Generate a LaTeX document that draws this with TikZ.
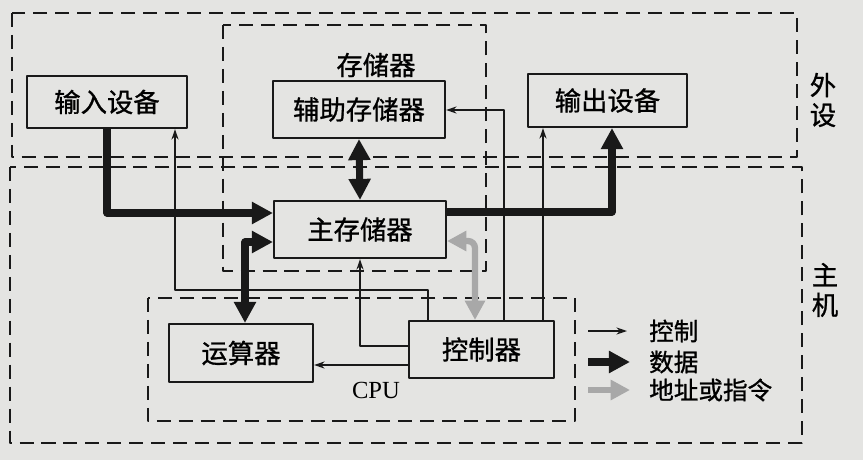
\documentclass[tikz,border=0pt]{standalone}
\usepackage{fontspec}
\setmainfont{Liberation Serif}
\newfontfamily\cjk[FakeBold=1]{Noto Sans CJK SC}
\usetikzlibrary{arrows.meta}
\definecolor{paper}{RGB}{228,228,226}
\definecolor{ink}{RGB}{25,25,25}
\definecolor{addrgray}{RGB}{168,168,168}

\begin{document}
\begin{tikzpicture}[x=0.02cm,y=-0.02cm,line join=round,font=\cjk\fontsize{15}{17}\selectfont,
		box/.style={draw=ink,line width=1.2pt,inner sep=0pt},
		frame/.style={draw=ink,line width=1.1pt,dash pattern=on 8pt off 4.5pt},
		ctrl/.style={draw=ink,line width=0.8pt,-{Stealth[length=6pt,width=4pt]}},
		data/.style={draw=ink,line width=4pt,-{Triangle[length=12pt,width=12pt]}},
		dbl/.style={draw=ink,line width=4pt,{Triangle[length=12pt,width=12pt]}-{Triangle[length=12pt,width=12pt]}},
		addr/.style={draw=addrgray,line width=3.6pt,{Triangle[length=11pt,width=11pt]}-{Triangle[length=11pt,width=11pt]}}]
			\fill[paper] (0,0) rectangle (863,460);
			\draw[frame] (12,13) rectangle (797,157);
			\draw[frame] (10,167) rectangle (802,443);
			\draw[frame] (223,25) rectangle (486,271);
			\draw[frame] (148,298) rectangle (575,421);
			\node[box,minimum width=3.2cm,minimum height=1.04cm] (in) at (107,102) {输入设备};
			\node[box,minimum width=3.44cm,minimum height=1.14cm] (aux) at (359,109.5) {辅助存储器};
			\node[box,minimum width=3.18cm,minimum height=1.06cm] (out) at (607.5,100.5) {输出设备};
			\node[box,minimum width=3.44cm,minimum height=1.14cm] (mem) at (360,229.5) {主存储器};
			\node[box,minimum width=2.88cm,minimum height=1.16cm] (alu) at (241,353) {运算器};
			\node[box,minimum width=2.9cm,minimum height=1.14cm] (ctl) at (481.5,349.5) {控制器};
			\node (stlbl) at (376,65) {存储器};
			\node[align=center] (perlbl) at (823,100) {外\\设};
			\node[align=center] (hostlbl) at (825,290) {主\\机};
			\node[font=\rmfamily\fontsize{14}{16}\selectfont] (cpulbl) at (376,390) {CPU};
			\draw[data] (in.south) |- (mem.west |- 0,213);
			\draw[data] (mem.east |- 0,212) -| (out.south -| 612,0);
			\draw[dbl] (aux.south) -- (mem.north);
			\draw[dbl] (alu.north -| 245,0) |- (mem.west |- 0,242);
			\draw[addr,rounded corners=4pt] (mem.east |- 0,241) -| (ctl.north -| 475,0);
			\draw[ctrl] (ctl.west |- 0,365) -- (alu.east |- 0,365);
			\draw[ctrl] (ctl.west |- 0,346) -| (mem.south);
			\draw[ctrl] (ctl.north -| 428,0) |- (175,290) -- (in.south -| 175,0);
			\draw[ctrl] (ctl.north -| 504,0) |- (aux.east |- 0,110);
			\draw[ctrl] (ctl.north -| 543,0) -- (out.south -| 543,0);
			\coordinate (k1) at (588,331);
			\coordinate (k2) at (588,362);
			\coordinate (k3) at (588,390);
			\draw[ctrl] (k1) -- ++(39,0);
			\draw[data] (k2) -- ++(42,0);
			\draw[addr,-{Triangle[length=11pt,width=11pt]}] (k3) -- ++(42,0);
			\node[anchor=west,font=\cjk\fontsize{14}{16}\selectfont] (lctl) at (643,331) {控制};
			\node[anchor=west,font=\cjk\fontsize{14}{16}\selectfont] (ldat) at (643,362) {数据};
			\node[anchor=west,font=\cjk\fontsize{14}{16}\selectfont] (ladr) at (643,390) {地址或指令};
		\end{tikzpicture}
\end{document}
